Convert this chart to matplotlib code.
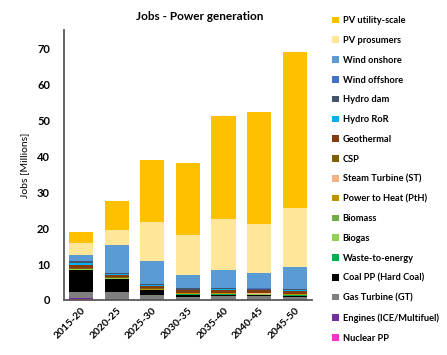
import numpy as np
import matplotlib
matplotlib.use("Agg")
import matplotlib.pyplot as plt

plt.rcParams['font.family'] = ['Lato', 'DejaVu Sans']
plt.rcParams['font.weight'] = 'bold'

periods = ["2015-20", "2020-25", "2025-30", "2030-35", "2035-40", "2040-45", "2045-50"]

# stacked bottom -> top, values in millions of jobs
nuclear = [0.4, 0.1, 0.1, 0.1, 0.1, 0.1, 0.1]
engines = [0.1, 0.3, 0.1, 0.1, 0.1, 0.1, 0.1]
gas_turbine = [1.6, 1.9, 1.1, 0.7, 0.8, 0.8, 0.7]
coal = [6.3, 3.6, 1.4, 0.6, 0.5, 0.4, 0.3]
waste = [0.05, 0.05, 0.05, 0.05, 0.1, 0.1, 0.1]
biogas = [0.05, 0.05, 0.05, 0.05, 0.05, 0.05, 0.05]
biomass = [0.1, 0.1, 0.1, 0.1, 0.1, 0.1, 0.1]
power_to_heat = [0.05, 0.05, 0.1, 0.1, 0.1, 0.1, 0.1]
steam_turbine = [0.05, 0.05, 0.1, 0.1, 0.1, 0.1, 0.1]
csp = [0.05, 0.05, 0.1, 0.1, 0.1, 0.1, 0.1]
geothermal = [1.1, 0.6, 0.7, 0.7, 0.7, 0.7, 0.7]
hydro_ror = [0.55, 0.3, 0.2, 0.2, 0.2, 0.2, 0.2]
hydro_dam = [0.3, 0.3, 0.3, 0.3, 0.3, 0.3, 0.3]
wind_offshore = [0.05, 0.05, 0.1, 0.1, 0.1, 0.1, 0.1]
wind_onshore = [1.8, 7.9, 6.4, 3.6, 5.0, 4.2, 6.2]
pv_prosumers = [3.4, 4.1, 10.7, 11.1, 14.2, 13.6, 16.3]
pv_utility = [2.9, 8.1, 17.3, 20.0, 28.5, 31.2, 43.4]

series = [
    ("Nuclear PP", nuclear, "#FF33CC"),
    ("Engines (ICE/Multifuel)", engines, "#7030A0"),
    ("Gas Turbine (GT)", gas_turbine, "#7F7F7F"),
    ("Coal PP (Hard Coal)", coal, "#000000"),
    ("Waste-to-energy", waste, "#00B050"),
    ("Biogas", biogas, "#92D050"),
    ("Biomass", biomass, "#70AD47"),
    ("Power to Heat (PtH)", power_to_heat, "#BF9000"),
    ("Steam Turbine (ST)", steam_turbine, "#F4B183"),
    ("CSP", csp, "#7F6000"),
    ("Geothermal", geothermal, "#843C0C"),
    ("Hydro RoR", hydro_ror, "#00B0F0"),
    ("Hydro dam", hydro_dam, "#44546A"),
    ("Wind offshore", wind_offshore, "#4472C4"),
    ("Wind onshore", wind_onshore, "#5B9BD5"),
    ("PV prosumers", pv_prosumers, "#FFE699"),
    ("PV utility-scale", pv_utility, "#FFC000"),
]

fig = plt.figure(figsize=(4.47, 3.55), dpi=100)
ax = fig.add_axes([0.143, 0.155, 0.555, 0.76])

x = np.arange(len(periods))
bottom = np.zeros(len(periods))
handles = []
for name, vals, color in series:
    h = ax.bar(x, vals, 0.68, bottom=bottom, color=color, label=name, linewidth=0)
    bottom += np.array(vals)
    handles.append(h)

ax.set_xlim(-0.48, len(periods) - 0.52)
ax.set_ylim(0, 75)
ax.set_yticks(range(0, 71, 10))
ax.set_xticks(x)
ax.set_xticklabels(periods, rotation=45, ha="right", rotation_mode="anchor", fontsize=7.5)
ax.tick_params(axis="y", labelsize=8, length=0, pad=10)
ax.tick_params(axis="x", length=0, pad=4)
for side in ("top", "right"):
    ax.spines[side].set_visible(False)
for side in ("left", "bottom"):
    ax.spines[side].set_color("#595959")
    ax.spines[side].set_linewidth(1.3)
ax.set_ylabel("Jobs [Millions]", fontsize=7.5, labelpad=6)
fig.text(200 / 447, 1 - 17 / 355, "Jobs - Power generation", ha="center", va="center", fontsize=8.5)

leg = fig.legend(handles[::-1], [s[0] for s in series[::-1]],
                 loc="upper left", bbox_to_anchor=(0.735, 0.965), frameon=False,
                 fontsize=6.7, handlelength=0.7, handleheight=0.7, handletextpad=0.4,
                 labelspacing=1.16, borderaxespad=0)

fig.savefig("out.png", dpi=100)
